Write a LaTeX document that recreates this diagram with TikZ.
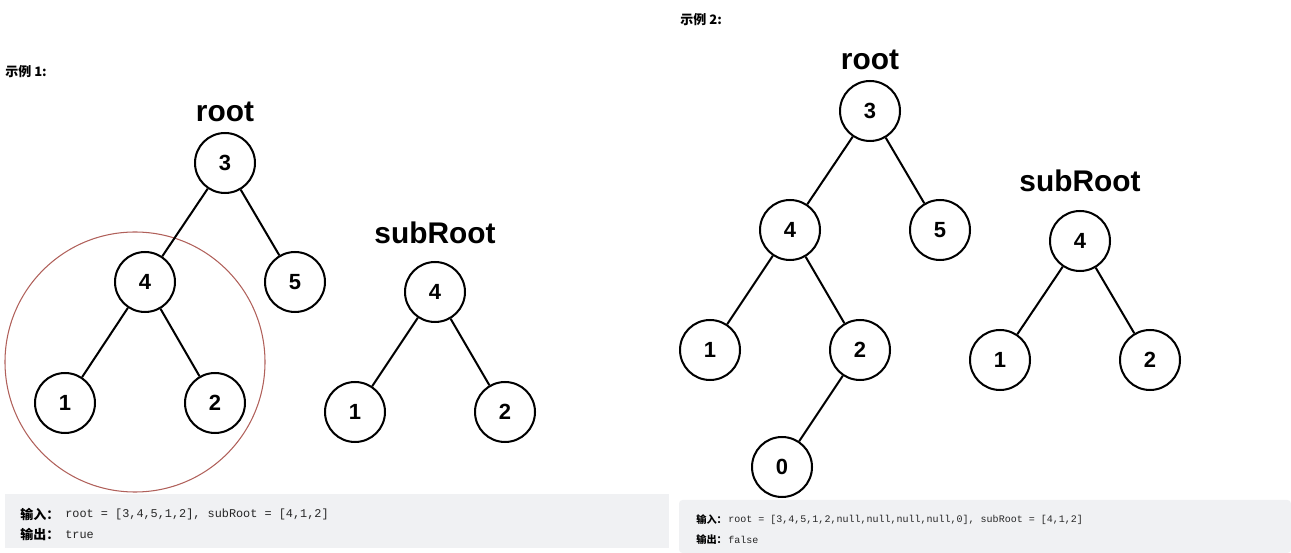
\documentclass[tikz,border=0pt]{standalone}
\usepackage{fontspec}
\setmainfont{Liberation Sans}
\setmonofont{Liberation Mono}
\newfontfamily\cjk{Noto Sans CJK SC}
\definecolor{boxgray}{HTML}{F0F1F3}
\definecolor{ringred}{HTML}{B0605A}
\definecolor{codetext}{HTML}{262626}
\begin{document}
\begin{tikzpicture}[x=0.02cm,y=-0.02cm,
  tn/.style={circle,draw,line width=1.15pt,minimum size=1.2cm,inner sep=0pt,font=\fontsize{12.5}{12.5}\selectfont\bfseries},
  edge/.style={line width=1.15pt},
  title/.style={font=\fontsize{17}{17}\selectfont\bfseries},
  head/.style={anchor=west,inner sep=0pt,font=\cjk\bfseries\fontsize{7.4}{8}\selectfont},
  lab/.style={anchor=west,inner sep=0pt,font=\cjk\bfseries\fontsize{7.4}{8}\selectfont},
  labs/.style={anchor=west,inner sep=0pt,font=\cjk\bfseries\fontsize{5.8}{6}\selectfont},
  code/.style={anchor=west,inner sep=0pt,text=codetext,font=\ttfamily\fontsize{6.75}{7}\selectfont},
  codes/.style={anchor=west,inner sep=0pt,text=codetext,font=\ttfamily\fontsize{5.7}{6}\selectfont}]
\useasboundingbox (0,0) rectangle (1291,553);
% boxes
\fill[boxgray] (5,494) rectangle (669,548);
\fill[boxgray,rounded corners=2pt] (679,553) |- (1291,500) -- (1291,553) -- cycle;
% headings
\node[head] (h1) at (5,72) {示例 1:};
\node[head] (h2) at (680,20) {示例 2:};
% example 1
\draw[ringred,line width=0.6pt] (135,362) circle[radius=130];
\node[title] (r1) at (225,112) {root};
\node[tn] (a3) at (225,163) {3};
\node[tn] (a4) at (145,282) {4};
\node[tn] (a5) at (295,282) {5};
\node[tn] (a1) at (65,403) {1};
\node[tn] (a2) at (215,403) {2};
\draw[edge] (a3) -- (a4);
\draw[edge] (a3) -- (a5);
\draw[edge] (a4) -- (a1);
\draw[edge] (a4) -- (a2);
\node[title] (s1) at (435,233) {subRoot};
\node[tn] (b4) at (435,292) {4};
\node[tn] (b1) at (355,412) {1};
\node[tn] (b2) at (505,412) {2};
\draw[edge] (b4) -- (b1);
\draw[edge] (b4) -- (b2);
\node[lab] (in1) at (20,514) {输入：};
\node[code] (c1) at (65,514) {root = [3,4,5,1,2], subRoot = [4,1,2]};
\node[lab] (out1) at (20,535) {输出：};
\node[code] (d1) at (65,535) {true};
% example 2
\node[title] (r2) at (870,60) {root};
\node[tn] (e3) at (870,111) {3};
\node[tn] (e4) at (790,230) {4};
\node[tn] (e5) at (940,230) {5};
\node[tn] (e1) at (710,350) {1};
\node[tn] (e2) at (860,350) {2};
\node[tn] (e0) at (782,467) {0};
\draw[edge] (e3) -- (e4);
\draw[edge] (e3) -- (e5);
\draw[edge] (e4) -- (e1);
\draw[edge] (e4) -- (e2);
\draw[edge] (e2) -- (e0);
\node[title] (s2) at (1080,181) {subRoot};
\node[tn] (f4) at (1080,241) {4};
\node[tn] (f1) at (1000,360) {1};
\node[tn] (f2) at (1150,360) {2};
\draw[edge] (f4) -- (f1);
\draw[edge] (f4) -- (f2);
\node[labs] (in2) at (696,520) {输入：};
\node[codes] (c2) at (728,520) {root = [3,4,5,1,2,null,null,null,null,0], subRoot = [4,1,2]};
\node[labs] (out2) at (696,540) {输出：};
\node[codes] (d2) at (728,540) {false};
\end{tikzpicture}
\end{document}
